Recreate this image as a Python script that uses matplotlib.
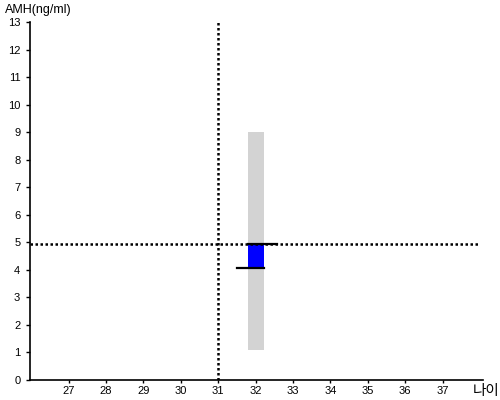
import matplotlib.pyplot as plt

# data
age = 32
range_low, range_high = 1.1, 9.0
box_low, box_high = 4.08, 4.93
ref_age = 31
ref_amh = 4.93
x_ticks = list(range(27, 38))
y_ticks = list(range(0, 14))

plt.rcParams['font.family'] = ['Liberation Sans', 'Noto Sans CJK KR', 'DejaVu Sans']

fig = plt.figure(figsize=(5, 4), dpi=100)
ax = fig.add_axes([0.06, 0.05, 0.906, 0.895])

# gray range bar
ax.bar(age - 0.2, range_high - range_low, bottom=range_low, width=0.43,
       align='edge', color='#d3d3d3', zorder=1)
# blue box
ax.bar(age - 0.2, box_high - box_low, bottom=box_low, width=0.43,
       align='edge', color='#0000ff', zorder=2)
# horizontal marks
ax.plot([age - 0.2, age + 0.56], [box_high, box_high], color='black', lw=1.6, zorder=3)
ax.plot([age - 0.51, age + 0.23], [box_low, box_low], color='black', lw=1.6, zorder=3)

# dotted reference lines
ax.axvline(ref_age, color='black', lw=1.8, linestyle=(0, (1, 1)), zorder=4)
ax.axhline(ref_amh, xmax=0.993, color='black', lw=1.8, linestyle=(0, (1, 1)), zorder=4)

ax.set_xlim(25.965, 38.08)
ax.set_ylim(0, 13)
ax.set_xticks(x_ticks)
ax.set_yticks(y_ticks)
ax.tick_params(axis='y', labelsize=8, length=3, width=1, pad=4)
ax.tick_params(axis='x', labelsize=8, length=2, width=1, pad=2)
ax.spines['top'].set_visible(False)
ax.spines['right'].set_visible(False)
ax.spines['left'].set_linewidth(1.2)
ax.spines['bottom'].set_linewidth(1.2)

fig.text(0.01, 0.975, 'AMH(ng/ml)', fontsize=9, va='center', ha='left')
fig.text(0.998, 0.022, '나이', fontsize=10.5, va='center', ha='right')

fig.savefig('out.png', dpi=100)
